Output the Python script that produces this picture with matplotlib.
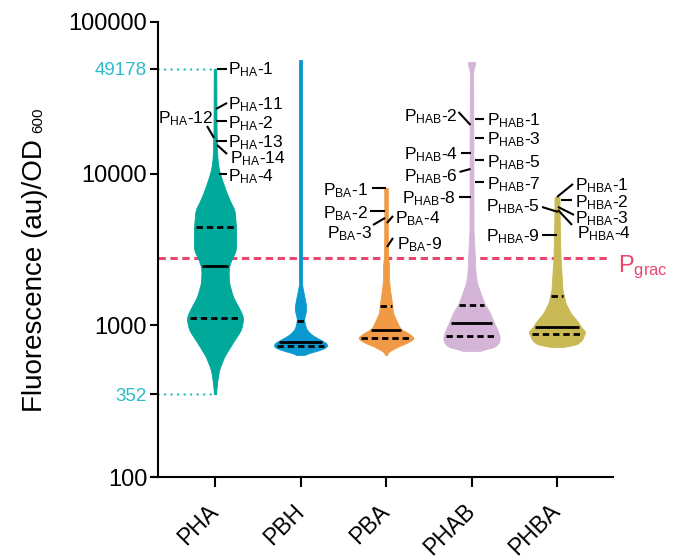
import numpy as np
import matplotlib
matplotlib.use('Agg')
import matplotlib.pyplot as plt
from matplotlib.transforms import IdentityTransform
from matplotlib.ticker import NullLocator

plt.rcParams['font.family'] = ['Liberation Sans', 'DejaVu Sans']
plt.rcParams['mathtext.fontset'] = 'custom'
plt.rcParams['mathtext.rm'] = 'Liberation Sans'
plt.rcParams['mathtext.it'] = 'Liberation Sans:italic'
plt.rcParams['mathtext.bf'] = 'Liberation Sans:bold'

# ---------------- data ----------------
groups = ['PHA', 'PBH', 'PBA', 'PHAB', 'PHBA']
colors = ['#00A99A', '#0A98CF', '#F09A45', '#D4B5D8', '#C8B955']

# violin outlines: fluorescence value (ascending) and relative density (width)
pha_vals = [352, 417, 508, 619, 765, 933, 1119, 1264, 1539, 1903, 2318, 2578, 3141,
            4453, 5764, 6708, 7808, 9087, 10580, 12310, 14330, 20000, 49178]
pha_dens = [2, 4, 8, 18, 35, 52, 57, 50, 36, 28, 27, 30, 42, 42, 39, 29, 21, 14, 8, 5, 4, 3, 2.5]

pbh_vals = [638, 668, 699, 743, 789, 851, 933, 1037, 1119, 1225, 1363, 1586, 1846, 56170]
pbh_dens = [2, 25, 48, 57, 45, 25, 12, 8, 7, 11, 11, 7, 3, 3]

pba_vals = [638, 668, 720, 777, 826, 891, 947, 1037, 1207, 1470, 1712, 1992, 2501, 2824, 4256, 8050]
pba_dens = [2, 4, 22, 46, 57, 44, 29, 23, 14, 11, 8, 6, 6, 4, 3.5, 3.5]

phab_vals = [678, 688, 720, 766, 826, 933, 1037, 1207, 1405, 1635, 1903, 2215, 2578,
             3141, 3655, 4256, 30600, 46820, 54500]
phab_dens = [4, 30, 47, 55, 57, 52, 45, 37, 25, 18, 11, 8, 7, 6, 5, 4, 3.5, 3, 8]

phba_vals = [720, 731, 743, 801, 878, 905, 976, 1053, 1207, 1405, 1712, 2215, 2824, 3944, 5764, 7020]
phba_dens = [5, 25, 38, 50, 55, 57, 48, 42, 27, 17, 11, 9, 7, 6, 5, 5]

# quartiles: lower, median, upper
pha_q = [1119, 2464, 4453]
pbh_q = [731, 777, 1069]
pba_q = [826, 933, 1343]
phab_q = [851, 1037, 1363]
phba_q = [878, 976, 1563]

pha_min, pha_max = 352, 49178
pgrac = 2800

# labelled promoters (value at which each label points)
pha_ann = ['1', '11', '2', '12', '13', '14', '4']
pha_ann_vals = [49178, 26700, 22250, 17190, 16430, 15460, 9955]
pba_ann = ['1', '2', '3', '4', '9']
pba_ann_vals = [8050, 5677, 5105, 4732, 3287]
phab_ann = ['1', '2', '3', '4', '5', '6', '7', '8']
phab_ann_vals = [22940, 20940, 17190, 13690, 12310, 10740, 8818, 7020]
phba_ann = ['1', '2', '3', '4', '5', '9']
phba_ann_vals = [7020, 6708, 6033, 5764, 5591, 3944]

# ---------------- layout ----------------
W, H = 681, 560
fig = plt.figure(figsize=(W / 100, H / 100), dpi=100)
ax = fig.add_axes([158 / W, 83 / H, 455 / W, 455 / H])
ax.set_autoscale_on(False)
ax.set_yscale('log')
ax.set_ylim(100, 100000)
ax.set_xlim(-0.667, 4.655)

for s in ['top', 'right']:
    ax.spines[s].set_visible(False)
for s in ['left', 'bottom']:
    ax.spines[s].set_linewidth(1.5)

ident = IdentityTransform()

teal = '#2EBAC6'
yt = [100, 352, 1000, 10000, 49178, 100000]
ax.set_yticks(yt)
ax.set_yticklabels([str(v) for v in yt])
ax.yaxis.set_minor_locator(NullLocator())
for lab, v in zip(ax.get_yticklabels(), yt):
    if v in (pha_min, pha_max):
        lab.set_color(teal)
        lab.set_fontsize(13.5)
    else:
        lab.set_fontsize(17)
ax.tick_params(axis='y', length=5.8, width=1.5, pad=2)
ax.set_xticks(range(len(groups)))
ax.set_xticklabels(groups, rotation=45, ha='right', va='center', rotation_mode='anchor', fontsize=16.5)
ax.tick_params(axis='x', length=7.2, width=1.5, pad=15)

# small extension of the x axis line to the left of the y axis
X0, Y0 = ax.transData.transform((-0.667, 100))
ax.plot([X0 - 7, X0], [Y0, Y0], transform=ident, color='black', lw=1.5,
        solid_capstyle='butt', clip_on=False)

# P_grac line
pink = '#E94670'
ax.axhline(pgrac, xmin=0, xmax=0.989, color=pink, lw=2.2, ls=(0, (2.4, 1.5)), zorder=1)

# dotted min/max markers for PHA
for v in (pha_min, pha_max):
    ax.plot([-0.667, 0], [v, v], color=teal, lw=1.8, ls=(0, (0.01, 2.6)),
            dash_capstyle='round', zorder=2, clip_on=False)

profiles = [(pha_vals, pha_dens, pha_q), (pbh_vals, pbh_dens, pbh_q), (pba_vals, pba_dens, pba_q),
            (phab_vals, phab_dens, phab_q), (phba_vals, phba_dens, phba_q)]
dens_max = max(max(p[1]) for p in profiles)
violin_width = 0.667

for i, ((vals, dens, q), col) in enumerate(zip(profiles, colors)):
    lv = np.log10(vals)
    yy = np.linspace(lv.min(), lv.max(), 500)
    ww = np.interp(yy, lv, dens)
    k = 5
    ww_s = np.convolve(np.pad(ww, k, mode='edge'), np.ones(2 * k + 1) / (2 * k + 1), mode='same')[k:-k]
    hw = ww_s / dens_max * violin_width / 2
    ax.fill_betweenx(10 ** yy, i - hw, i + hw, color=col, lw=0.6, edgecolor=col, zorder=3)
    for j, qv in enumerate(q):
        h = np.interp(np.log10(qv), yy, hw) * 0.9
        ls = '-' if j == 1 else (0, (2.3, 1.4))
        ax.plot([i - h, i + h], [qv, qv], color='black', lw=2.0, ls=ls,
                solid_capstyle='butt', dash_capstyle='butt', zorder=4)

# annotation layout, px: (line start dx, line end dx, line end dy, text dx, text dy)
pha_lay = [(2, 12, 0, 13, 0), (1, 12, -6, 13, -6), (1, 12, 0, 13, 1), (-1, -8, -12, -2, -21),
           (1, 12, 0, 13, 0), (2, 12, 9, 15, 12), (4, 12, 0, 13, 1)]
pba_lay = [(0, -14, 0, -18, 1), (-1, -16, 0, -18, 1), (-1, -13, 7, -14, 14),
           (1, 7, -7, 9, -6), (1, 7, -9, 11, -4)]
phab_lay = [(3, 12, 0, 15, 0), (-1, -13, -13, -14, -10), (3, 12, 0, 15, 0), (-1, -11, 0, -13, 0),
            (3, 12, 0, 15, 1), (-1, -12, 3, -14, 6), (3, 12, 0, 15, 1), (-1, -13, 0, -16, 0)]
phba_lay = [(0, 16, -13, 18, -13), (4, 15, 0, 18, 1), (1, 17, 8, 18, 10), (1, 15, 15, 20, 22),
            (1, -15, -5, -17, -7), (0, -15, 0, -17, 0)]


def annotate(i, names, vals, sub, lay):
    for name, v, (sx, ex, ey, tx, ty) in zip(names, vals, lay):
        X, Y = ax.transData.transform((i, v))
        ax.plot([X + sx, X + ex], [Y, Y - ey], transform=ident, color='black', lw=1.5,
                solid_capstyle='butt', clip_on=False, zorder=5)
        ax.text(X + tx, Y - ty - 6, r'$\mathregular{P_{%s}}$-%s' % (sub, name), transform=ident,
                ha='left' if tx > 0 else 'right', va='baseline', fontsize=12.5, zorder=6)


annotate(0, pha_ann, pha_ann_vals, 'HA', pha_lay)
annotate(2, pba_ann, pba_ann_vals, 'BA', pba_lay)
annotate(3, phab_ann, phab_ann_vals, 'HAB', phab_lay)
annotate(4, phba_ann, phba_ann_vals, 'HBA', phba_lay)

# P_grac label
X, Y = ax.transData.transform((4, pgrac))
ax.text(X + 61, Y - 7 - 8, r'$\mathregular{P_{grac}}$', transform=ident, color=pink,
        ha='left', va='baseline', fontsize=17)

# y label (main text + small 600)
lab1 = fig.text(42, H - 412, 'Fluorescence (au)/OD', rotation=90, rotation_mode='anchor',
                ha='left', va='baseline', fontsize=20, transform=ident)
renderer = fig.canvas.get_renderer()
bb = lab1.get_window_extent(renderer)
fig.text(42, bb.y1 + 6, '600', rotation=90, rotation_mode='anchor',
         ha='left', va='baseline', fontsize=11, transform=ident)

fig.savefig('out.png', dpi=100)
